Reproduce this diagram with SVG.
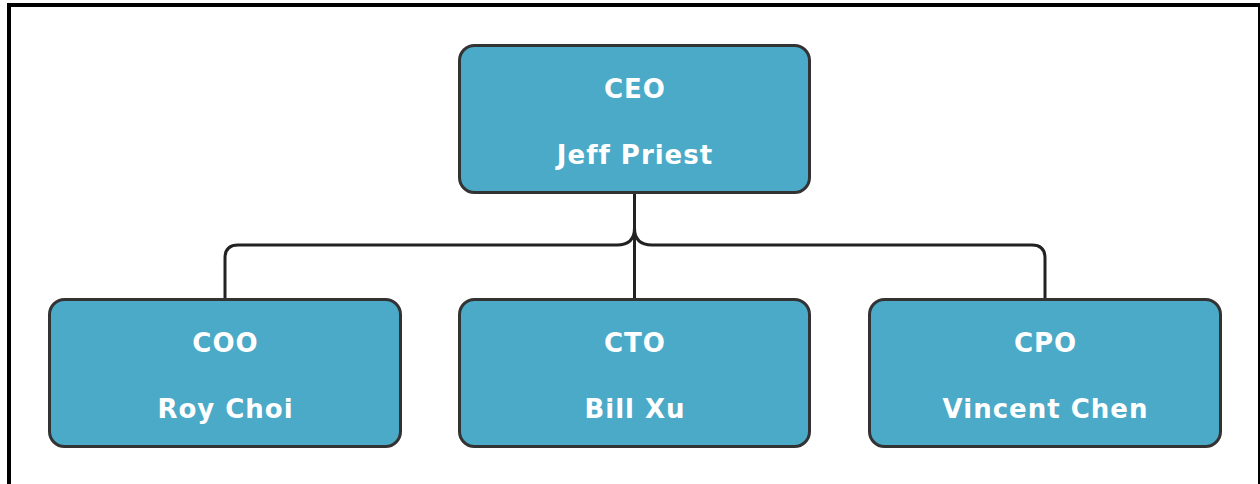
<svg xmlns="http://www.w3.org/2000/svg" width="1260" height="484" viewBox="0 0 1260 484">
<style>
.box{fill:#4BAAC8;stroke:#333;stroke-width:3}
.t{font-family:"DejaVu Sans",Verdana,sans-serif;font-weight:bold;font-size:26px;letter-spacing:1px;fill:#fff;text-anchor:middle}
.c{fill:none;stroke:#222;stroke-width:3}
</style>
<rect x="0" y="0" width="1260" height="484" fill="#fff"/>
<rect x="9" y="5" width="1251" height="500" fill="none" stroke="#000" stroke-width="4"/>
<g id="connectors">
<path class="c" d="M634.5 192 V299"/>
<path class="c" d="M634.5 228 Q634.5 245 617 245 H238 Q225 245 225 258 V299"/>
<path class="c" d="M634.5 228 Q634.5 245 652 245 H1032 Q1045 245 1045 258 V299"/>
</g>
<g id="ceo">
<rect class="box" x="459.5" y="45.5" width="350" height="147" rx="15"/>
<text class="t" x="635" y="98">CEO</text>
<text class="t" x="635" y="164">Jeff Priest</text>
</g>
<g id="coo">
<rect class="box" x="49.5" y="299.5" width="351" height="147" rx="15"/>
<text class="t" x="225.5" y="352">COO</text>
<text class="t" x="225.5" y="418">Roy Choi</text>
</g>
<g id="cto">
<rect class="box" x="459.5" y="299.5" width="350" height="147" rx="15"/>
<text class="t" x="635" y="352">CTO</text>
<text class="t" x="635" y="418">Bill Xu</text>
</g>
<g id="cpo">
<rect class="box" x="869.5" y="299.5" width="351" height="147" rx="15"/>
<text class="t" x="1045.5" y="352">CPO</text>
<text class="t" x="1045.5" y="418">Vincent Chen</text>
</g>
</svg>
